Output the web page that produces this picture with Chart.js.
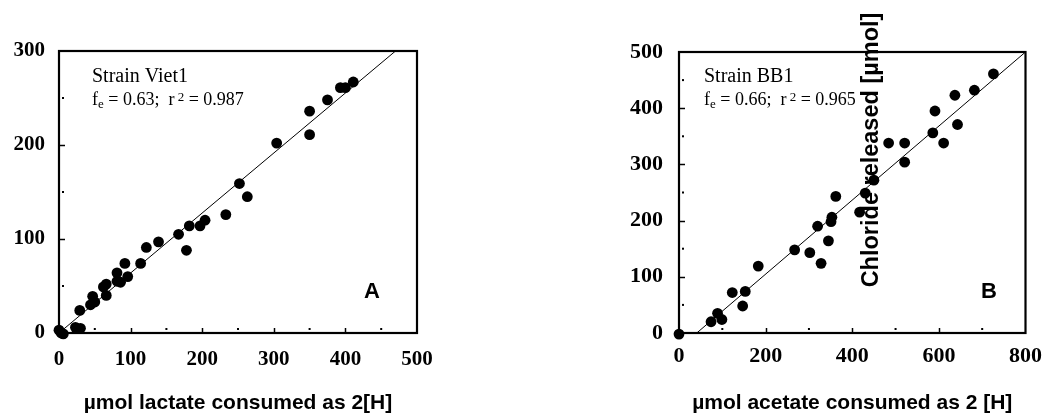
<!DOCTYPE html>
<html><head><meta charset="utf-8">
<script src="https://cdn.jsdelivr.net/npm/chart.js@4/dist/chart.umd.min.js"></script>
<style>
html,body{margin:0;padding:0;background:#fff;width:1052px;height:419px;overflow:hidden}
canvas{position:absolute;top:0}
#cA{left:0}#cB{left:526px}
</style></head>
<body>
<canvas id="cA" width="526" height="419"></canvas>
<canvas id="cB" width="526" height="419"></canvas>
<script>
// ---- Panel A: Strain Viet1 ----
const viet1Lactate  = [0, 3, 6, 23, 30, 29, 44, 50, 47, 66, 62, 66, 81, 86, 81, 96, 92, 114, 122, 139, 167, 178, 182, 197, 204, 233, 252, 263, 304, 350, 350, 375, 393, 400, 411];
const viet1Chloride = [3, 0, -1, 6, 5, 24, 30, 33, 39, 40, 49, 52, 55, 54, 64, 60, 74, 74, 91, 97, 105, 88, 114, 114, 120, 126, 159, 145, 202, 211, 236, 248, 261, 261, 267];
const viet1FitX = [0, 470];
const viet1FitY = [0, 300];
const viet1XTicks = [0, 100, 200, 300, 400, 500];
const viet1YTicks = [0, 100, 200, 300];
const viet1XMajor = [100, 200, 300, 400];
const viet1XMinor = [50, 150, 250, 350, 450];
const viet1YMajor = [100, 200];
const viet1YMinor = [50, 150, 250];
const viet1Name = 'Strain Viet1';
const viet1Fe = '0.63';
const viet1R2 = '0.987';

// ---- Panel B: Strain BB1 ----
const bb1Acetate  = [0, 74, 89, 99, 123, 147, 153, 183, 267, 302, 320, 328, 345, 351, 353, 362, 417, 430, 450, 484, 521, 521, 586, 591, 611, 637, 643, 682, 726];
const bb1Chloride = [-2, 20, 35, 24, 72, 48, 74, 119, 148, 143, 190, 124, 164, 198, 206, 243, 215, 249, 272, 338, 338, 304, 356, 395, 338, 423, 371, 432, 461];
const bb1FitX = [41, 800];
const bb1FitY = [0, 500];
const bb1XTicks = [0, 200, 400, 600, 800];
const bb1YTicks = [0, 100, 200, 300, 400, 500];
const bb1XMajor = [200, 400, 600];
const bb1XMinor = [100, 300, 500, 700];
const bb1YMajor = [100, 200, 300, 400];
const bb1YMinor = [50, 150, 250, 350, 450];
const bb1Name = 'Strain BB1';
const bb1Fe = '0.66';
const bb1R2 = '0.965';

const yAxisTitle = 'Chloride released [\u00b5mol]';
const xTitleA = '\u00b5mol lactate consumed as 2[H]';
const xTitleB = '\u00b5mol acetate consumed as 2 [H]';

const SERIF = '"Liberation Serif", "Times New Roman", serif';
const SANS = '"Liberation Sans", Arial, sans-serif';

function drawFormula(ctx, x, y, fe, r2) {
  const parts = [
    {t: 'f', size: 18, dy: 0},
    {t: 'e', size: 13, dy: 3},
    {t: ' = ' + fe + ';  r', size: 18, dy: 0},
    {t: ' 2', size: 13, dy: -4},
    {t: ' = ' + r2, size: 18, dy: 0}
  ];
  let cx = x;
  ctx.textAlign = 'left';
  ctx.textBaseline = 'alphabetic';
  for (const p of parts) {
    ctx.font = p.size + 'px ' + SERIF;
    ctx.fillText(p.t, cx, y + p.dy);
    cx += ctx.measureText(p.t).width;
  }
}

function makePanel(canvasId, cfg) {
  const plugin = {
    id: 'panelDecor',
    beforeDatasetsDraw(chart) {
      const ctx = chart.ctx, a = chart.chartArea;
      const xs = chart.scales.x, ys = chart.scales.y;
      ctx.save();
      ctx.strokeStyle = '#000';
      ctx.fillStyle = '#000';
      ctx.lineWidth = 2.2;
      ctx.strokeRect(a.left, a.top, a.right - a.left, a.bottom - a.top);
      ctx.lineWidth = 1.5;
      for (const v of cfg.yMajor) {
        const py = Math.round(ys.getPixelForValue(v)) + 0.5;
        ctx.beginPath(); ctx.moveTo(a.left, py); ctx.lineTo(a.left + 6, py); ctx.stroke();
      }
      for (const v of cfg.yMinor) {
        const py = ys.getPixelForValue(v);
        ctx.fillRect(a.left + 3, py - 1, 2, 2);
      }
      for (const v of cfg.xMajor) {
        const px = Math.round(xs.getPixelForValue(v)) + 0.5;
        ctx.beginPath(); ctx.moveTo(px, a.bottom); ctx.lineTo(px, a.bottom - 5); ctx.stroke();
      }
      for (const v of cfg.xMinor) {
        const px = xs.getPixelForValue(v);
        ctx.fillRect(px - 1, a.bottom - 5, 2, 2);
      }
      ctx.restore();
    },
    afterDraw(chart) {
      const ctx = chart.ctx;
      ctx.save();
      ctx.fillStyle = '#000';
      ctx.font = '20px ' + SERIF;
      ctx.textAlign = 'left';
      ctx.textBaseline = 'alphabetic';
      ctx.fillText(cfg.name, cfg.noteX, 82);
      drawFormula(ctx, cfg.noteX, 105, cfg.fe, cfg.r2);
      ctx.font = 'bold 22px ' + SANS;
      ctx.fillText(cfg.letter, cfg.letterX, 298);
      if (cfg.rotLabel) {
        ctx.translate(cfg.rotLabel.x, cfg.rotLabel.y);
        ctx.rotate(-Math.PI / 2);
        ctx.font = 'bold 23.5px ' + SANS;
        ctx.textAlign = 'center';
        ctx.textBaseline = 'alphabetic';
        ctx.fillText(yAxisTitle, 0, 0);
      }
      ctx.restore();
    }
  };

  const points = cfg.xs.map((x, i) => ({x: x, y: cfg.ys[i]}));
  const fit = cfg.fitX.map((x, i) => ({x: x, y: cfg.fitY[i]}));

  return new Chart(document.getElementById(canvasId), {
    type: 'scatter',
    data: {
      datasets: [
        {type: 'scatter', data: points, pointRadius: 5.4, pointHoverRadius: 5.4,
         backgroundColor: '#000', borderColor: '#000', borderWidth: 0, clip: false, order: 1},
        {type: 'line', data: fit, borderColor: '#000', borderWidth: 1, pointRadius: 0,
         fill: false, tension: 0, clip: false, order: 2}
      ]
    },
    options: {
      responsive: false,
      animation: false,
      devicePixelRatio: 1,
      events: [],
      layout: {padding: {left: 0, top: cfg.top, right: cfg.padRight, bottom: 0}},
      plugins: {legend: {display: false}, tooltip: {enabled: false}},
      scales: {
        x: {
          type: 'linear', min: cfg.xTicks[0], max: cfg.xTicks[cfg.xTicks.length - 1],
          afterBuildTicks: s => { s.ticks = cfg.xTicks.map(v => ({value: v})); },
          afterFit: s => { s.height = 86; },
          grid: {display: false, drawTicks: false},
          border: {display: false},
          ticks: {color: '#000', padding: cfg.xTickPad, maxRotation: 0, autoSkip: false,
                  font: {family: SERIF, size: cfg.xTickSize, weight: 'bold'}},
          title: {display: true, text: cfg.xTitle, color: '#000',
                  font: {family: SANS, size: 21, weight: 'bold'}, padding: {top: 0, bottom: 3}}
        },
        y: {
          type: 'linear', min: cfg.yTicks[0], max: cfg.yTicks[cfg.yTicks.length - 1],
          afterBuildTicks: s => { s.ticks = cfg.yTicks.map(v => ({value: v})); },
          afterFit: s => { s.width = cfg.yWidth; },
          grid: {display: false, drawTicks: false},
          border: {display: false},
          ticks: {color: '#000', padding: cfg.yTickPad, autoSkip: false,
                  font: {family: SERIF, size: cfg.yTickSize, weight: 'bold'}}
        }
      }
    },
    plugins: [plugin]
  });
}

makePanel('cA', {
  xs: viet1Lactate, ys: viet1Chloride, fitX: viet1FitX, fitY: viet1FitY,
  xTicks: viet1XTicks, yTicks: viet1YTicks,
  xMajor: viet1XMajor, xMinor: viet1XMinor, yMajor: viet1YMajor, yMinor: viet1YMinor,
  name: viet1Name, fe: viet1Fe, r2: viet1R2, letter: 'A',
  noteX: 92, letterX: 364,
  top: 51, padRight: 109, yWidth: 59, yTickPad: 14, yTickSize: 21,
  xTickPad: 14, xTickSize: 21, xTitle: xTitleA
});

makePanel('cB', {
  xs: bb1Acetate, ys: bb1Chloride, fitX: bb1FitX, fitY: bb1FitY,
  xTicks: bb1XTicks, yTicks: bb1YTicks,
  xMajor: bb1XMajor, xMinor: bb1XMinor, yMajor: bb1YMajor, yMinor: bb1YMinor,
  name: bb1Name, fe: bb1Fe, r2: bb1R2, letter: 'B',
  noteX: 178, letterX: 455,
  top: 52, padRight: 19, yWidth: 153, yTickPad: 16, yTickSize: 22,
  xTickPad: 10, xTickSize: 22, xTitle: xTitleB,
  rotLabel: {x: 352, y: 150}
});
</script>
</body></html>
